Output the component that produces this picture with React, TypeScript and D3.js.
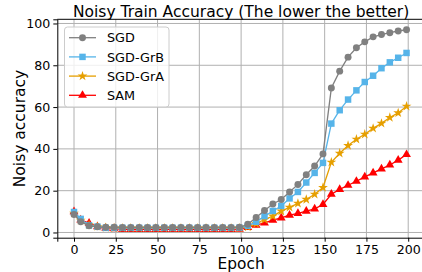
import * as d3 from 'd3'
import { useEffect, useRef } from 'react'

const epochs = [0, 4, 9, 14, 19, 24, 29, 34, 39, 44, 49, 54, 59, 64, 69, 74, 79, 84, 89, 94, 99, 104, 109, 114, 119, 124, 129, 134, 139, 144, 149, 154, 159, 164, 169, 174, 179, 184, 189, 194, 199]

const sgd = [8.6, 5.1, 3.2, 2.7, 2.5, 2.5, 2.4, 2.4, 2.4, 2.4, 2.4, 2.4, 2.4, 2.4, 2.4, 2.4, 2.4, 2.4, 2.4, 2.4, 2.5, 3.9, 7.2, 10.5, 13.6, 15.8, 19.4, 23.0, 27.6, 31.8, 37.6, 69.1, 77.2, 83.9, 88.4, 91.2, 93.6, 94.7, 95.6, 96.4, 97.0]
const sgdGrB = [9.8, 6.5, 3.4, 2.8, 2.2, 2.2, 2.2, 2.2, 2.2, 2.2, 2.2, 2.2, 2.2, 2.2, 2.2, 2.2, 2.2, 2.2, 2.2, 2.2, 2.3, 3.2, 5.1, 7.8, 10.3, 12.7, 16.3, 19.4, 23.9, 28.5, 33.3, 52.1, 58.5, 63.6, 68.0, 72.0, 75.0, 78.6, 81.4, 83.6, 85.9]
const sgdGrA = [9.2, 5.8, 3.6, 2.8, 2.3, 2.1, 2.1, 2.1, 2.1, 2.1, 2.1, 2.1, 2.1, 2.1, 2.1, 2.1, 2.1, 2.1, 2.1, 2.1, 2.1, 2.6, 4.2, 6.2, 7.8, 10.2, 12.0, 13.9, 15.8, 18.3, 21.5, 33.6, 37.9, 41.6, 44.6, 47.0, 49.8, 52.2, 55.0, 57.2, 60.4]
const sam = [10.0, 6.0, 4.5, 2.8, 2.0, 1.8, 1.5, 1.5, 1.5, 1.5, 1.5, 1.5, 1.5, 1.5, 1.5, 1.5, 1.5, 1.5, 1.5, 1.5, 1.6, 2.4, 3.5, 4.6, 5.9, 7.0, 8.3, 9.1, 10.2, 11.3, 13.4, 18.3, 20.6, 22.6, 24.5, 26.6, 28.5, 30.4, 32.3, 34.6, 37.3]

const xTicks = [0, 25, 50, 75, 100, 125, 150, 175, 200]
const yTicks = [0, 20, 40, 60, 80, 100]

const series = [
  { name: 'SGD', values: sgd, color: '#808080', symbol: d3.symbolCircle, size: 38 },
  { name: 'SGD-GrB', values: sgdGrB, color: '#56B4E9', symbol: d3.symbolSquare, size: 42 },
  { name: 'SGD-GrA', values: sgdGrA, color: '#E69F00', symbol: d3.symbolStar, size: 30 },
  { name: 'SAM', values: sam, color: '#FF0000', symbol: d3.symbolTriangle, size: 34 },
]

const W = 422
const H = 272
const font = 'DejaVu Sans, sans-serif'

const App = () => {
  const ref = useRef<SVGSVGElement>(null)

  useEffect(() => {
    const svg = d3.select(ref.current)
    svg.selectAll('*').remove()

    const left = 57.3
    const top = 19.3
    const bottom = 237.7
    const x = d3.scaleLinear().domain([-10, 210]).range([left, left + 220 * 1.671])
    const y = d3.scaleLinear().domain([-2.5, 102]).range([bottom, top])
    const right = x(210)

    // grid
    const grid = svg.append('g')
    grid
      .selectAll('line.gx')
      .data(xTicks)
      .enter()
      .append('line')
      .attr('x1', (d) => x(d))
      .attr('x2', (d) => x(d))
      .attr('y1', top)
      .attr('y2', bottom)
      .attr('stroke', '#b0b0b0')
      .attr('stroke-width', 1)
    grid
      .selectAll('line.gy')
      .data(yTicks)
      .enter()
      .append('line')
      .attr('x1', left)
      .attr('x2', right)
      .attr('y1', (d) => y(d))
      .attr('y2', (d) => y(d))
      .attr('stroke', '#b0b0b0')
      .attr('stroke-width', 1)

    // series, SGD drawn last so it sits on top
    const line = d3
      .line<number>()
      .x((_, i) => x(epochs[i]))
      .y((d) => y(d))
    const plotOrder = [...series].reverse()
    plotOrder.forEach((s) => {
      const g = svg.append('g')
      g.append('path')
        .attr('d', line(s.values))
        .attr('fill', 'none')
        .attr('stroke', s.color)
        .attr('stroke-width', 1.3)
      g.selectAll('path.m')
        .data(s.values)
        .enter()
        .append('path')
        .attr('d', d3.symbol().type(s.symbol).size(s.size)())
        .attr('transform', (d, i) => `translate(${x(epochs[i])},${y(d)})`)
        .attr('fill', s.color)
    })

    // axes
    const xAxis = svg
      .append('g')
      .attr('transform', `translate(0,${bottom})`)
      .call(d3.axisBottom(x).tickValues(xTicks).tickSize(4).tickPadding(3))
    const yAxis = svg
      .append('g')
      .attr('transform', `translate(${left},0)`)
      .call(d3.axisLeft(y).tickValues(yTicks).tickSize(4).tickPadding(3))
    ;[xAxis, yAxis].forEach((a) => {
      a.select('.domain').attr('stroke', '#000').attr('stroke-width', 1)
      a.selectAll('.tick line').attr('stroke', '#000')
      a.selectAll('.tick text').attr('font-family', font).attr('font-size', 12.6).attr('fill', '#000')
    })
    svg
      .append('line')
      .attr('x1', left)
      .attr('x2', right)
      .attr('y1', top)
      .attr('y2', top)
      .attr('stroke', '#000')
      .attr('stroke-width', 1)

    // labels
    svg
      .append('text')
      .attr('x', (left + right) / 2)
      .attr('y', 16.5)
      .attr('text-anchor', 'middle')
      .attr('font-family', font)
      .attr('font-size', 15.5)
      .text('Noisy Train Accuracy (The lower the better)')
    svg
      .append('text')
      .attr('x', x(100))
      .attr('y', 269)
      .attr('text-anchor', 'middle')
      .attr('font-family', font)
      .attr('font-size', 15.4)
      .text('Epoch')
    svg
      .append('text')
      .attr('transform', `translate(24.5,${(top + bottom) / 2}) rotate(-90)`)
      .attr('text-anchor', 'middle')
      .attr('font-family', font)
      .attr('font-size', 15.5)
      .text('Noisy accuracy')

    // legend
    const leg = svg.append('g')
    leg
      .append('rect')
      .attr('x', 64.5)
      .attr('y', 27)
      .attr('width', 104.5)
      .attr('height', 80)
      .attr('rx', 3)
      .attr('fill', 'white')
      .attr('fill-opacity', 0.8)
      .attr('stroke', '#cccccc')
    series.forEach((s, i) => {
      const ly = 37.7 + i * 19.2
      leg
        .append('line')
        .attr('x1', 69)
        .attr('x2', 96)
        .attr('y1', ly)
        .attr('y2', ly)
        .attr('stroke', s.color)
        .attr('stroke-width', 1.3)
      leg
        .append('path')
        .attr('d', d3.symbol().type(s.symbol).size(s.size)())
        .attr('transform', `translate(82.5,${ly})`)
        .attr('fill', s.color)
      leg
        .append('text')
        .attr('x', 107)
        .attr('y', ly + 4.7)
        .attr('font-family', font)
        .attr('font-size', 12.8)
        .text(s.name)
    })
  }, [])

  return (
    <div style={{ position: 'absolute', left: 0, top: 0, width: W, height: H, overflow: 'hidden', background: 'white' }}>
      <svg ref={ref} width={W} height={H}></svg>
    </div>
  )
}

export default App
